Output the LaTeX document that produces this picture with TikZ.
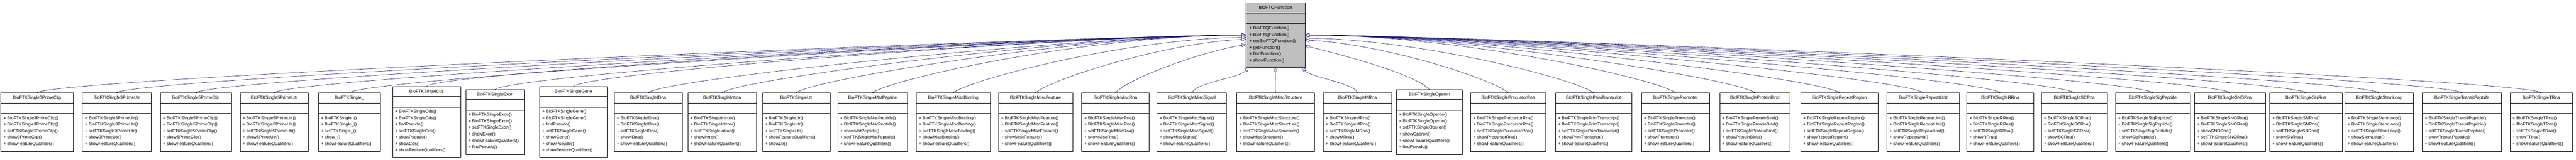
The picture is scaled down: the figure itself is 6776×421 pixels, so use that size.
\documentclass[tikz,border=0pt]{standalone}
\usepackage{fontspec}
\setmainfont{Liberation Sans}
\usetikzlibrary{arrows.meta,calc}
\definecolor{edgeblue}{HTML}{191970}
\definecolor{basegray}{HTML}{BFBFBF}
\tikzset{
  cls/.style={draw=black, line width=0.8pt, inner sep=0pt},
  ttl/.style={font=\fontsize{11.5}{17}\selectfont, inner sep=0pt},
  mth/.style={font=\fontsize{11.5}{17}\selectfont, align=left, anchor=north west, inner sep=0pt},
  inh/.style={draw=edgeblue, line width=0.8pt, -{Triangle[open, fill=white, length=11pt, width=10pt]}},
}
% #1 name, #2 xl, #3 xr, #4 n methods, #5 title, #6 methods, #7 fill
\newcommand{\umlcls}[7]{%
  \pgfmathsetmacro\hh{154+(#4-5)*17}
  \pgfmathsetmacro\ww{#3-#2}
  \pgfmathsetmacro\tp{100+\hh/2}
  \node[cls, fill=#7, minimum width=\ww pt, minimum height=\hh pt, anchor=north west] (#1) at (#2,\tp) {};
  \draw[line width=0.8pt] ($(#1.north west)+(0,-27)$) -- ($(#1.north east)+(0,-27)$);
  \draw[line width=0.8pt] ($(#1.north west)+(0,-55)$) -- ($(#1.north east)+(0,-55)$);
  \node[ttl] at ($(#1.north)+(0,-14)$) {#5};
  \node[mth] at ($(#1.north west)+(7,-62)$) {#6};
}
\newcommand{\stdcls}[5]{%
  \umlcls{#1}{#2}{#3}{5}{BioFTKSingle#4}{+ BioFTKSingle#4()\\+ BioFTKSingle#4()\\+ setFTKSingle#4()\\+ #5()\\+ showFeatureQualifiers()}{white}}
\begin{document}
\begin{tikzpicture}[x=1pt,y=1pt]
\useasboundingbox (0,0) rectangle (6776,421);
% base class
\node[cls, fill=basegray, minimum width=155pt, minimum height=170pt, anchor=north west] (T) at (3277,414) {};
\draw[line width=0.8pt] ($(T.north west)+(0,-27)$) -- ($(T.north east)+(0,-27)$);
\draw[line width=0.8pt] ($(T.north west)+(0,-55)$) -- ($(T.north east)+(0,-55)$);
\node[ttl, font=\fontsize{12}{17}\selectfont] at ($(T.north)+(0,-14)$) {BioFTQFunction};
\node[mth, font=\fontsize{12}{17}\selectfont] at ($(T.north west)+(9,-62)$) {+ BioFTQFunction()\\+ BioFTQFunction()\\+ setBioFTQFunction()\\+ getFunction()\\+ findFunction()\\+ showFunction()};

\stdcls{b1}{2}{192}{3PrimeClip}{show3PrimeClip}
\stdcls{b2}{216}{397}{3PrimeUtr}{show3PrimeUtr}
\stdcls{b3}{421}{608}{5PrimeClip}{show5PrimeClip}
\stdcls{b4}{631}{810}{5PrimeUtr}{show5PrimeUtr}
\stdcls{b5}{837}{1000}{\_}{show\_}
\umlcls{b6}{1032}{1212}{7}{BioFTKSingleCds}{+ BioFTKSingleCds()\\+ BioFTKSingleCds()\\+ findPseudo()\\+ setFTKSingleCds()\\+ showPseudo()\\+ showCds()\\+ showFeatureQualifiers()}{white}
\umlcls{b7}{1225}{1378}{6}{BioFTKSingleExon}{+ BioFTKSingleExon()\\+ BioFTKSingleExon()\\+ setFTKSingleExon()\\+ showExon()\\+ showFeatureQualifiers()\\+ findPseudo()}{white}
\umlcls{b8}{1419}{1597}{7}{BioFTKSingleGene}{+ BioFTKSingleGene()\\+ BioFTKSingleGene()\\+ findPseudo()\\+ setFTKSingleGene()\\+ showGene()\\+ showPseudo()\\+ showFeatureQualifiers()}{white}
\stdcls{b9}{1615}{1794}{IDna}{showIDna}
\stdcls{b10}{1809}{1989}{Intron}{showIntron}
\umlcls{b11}{2005}{2183}{5}{BioFTKSingleLtr}{+ BioFTKSingleLtr()\\+ BioFTKSingleLtr()\\+ setFTKSingleLtr()\\+ showFeatureQualifiers()\\+ showLtr()}{white}
\umlcls{b12}{2203}{2387}{5}{BioFTKSingleMatPeptide}{+ BioFTKSingleMatPeptide()\\+ BioFTKSingleMatPeptide()\\+ showMatPeptide()\\+ setFTKSingleMatPeptide()\\+ showFeatureQualifiers()}{white}
\stdcls{b13}{2410}{2604}{MiscBinding}{showMiscBinding}
\stdcls{b14}{2626}{2821}{MiscFeature}{showMiscFeature}
\stdcls{b15}{2845}{3022}{MiscRna}{showMiscRna}
\stdcls{b16}{3043}{3226}{MiscSignal}{showMiscSignal}
\stdcls{b17}{3253}{3457}{MiscStructure}{showMiscStructure}
\stdcls{b18}{3480}{3661}{MRna}{showMRna}
\umlcls{b19}{3673}{3846}{6}{BioFTKSingleOperon}{+ BioFTKSingleOperon()\\+ BioFTKSingleOperon()\\+ setFTKSingleOperon()\\+ showOperon()\\+ showFeatureQualifiers()\\+ findPseudo()}{white}
\stdcls{b20}{3868}{4066}{PrecursorRna}{showPrecursorRna}
\stdcls{b21}{4091}{4292}{PrimTranscript}{showPrimTranscript}
\stdcls{b22}{4317}{4497}{Promoter}{showPromoter}
\stdcls{b23}{4523}{4708}{ProteinBind}{showProteinBind}
\stdcls{b24}{4736}{4940}{RepeatRegion}{showRepeatRegion}
\stdcls{b25}{4963}{5154}{RepeatUnit}{showRepeatUnit}
\stdcls{b26}{5173}{5349}{RRna}{showRRna}
\stdcls{b27}{5369}{5543}{SCRna}{showSCRna}
\stdcls{b28}{5564}{5761}{SigPeptide}{showSigPeptide}
\umlcls{b29}{5772}{5959}{5}{BioFTKSingleSNORna}{+ BioFTKSingleSNORna()\\+ BioFTKSingleSNORna()\\+ showSNORna()\\+ setFTKSingleSNORna()\\+ showFeatureQualifiers()}{white}
\stdcls{b30}{5970}{6160}{SNRna}{showSNRna}
\stdcls{b31}{6168}{6347}{StemLoop}{showStemLoop}
\stdcls{b32}{6371}{6579}{TransitPeptide}{showTransitPeptide}
\stdcls{b33}{6602}{6766}{TRna}{showTRna}

% connection points on the base class
\coordinate (Lw) at (T.west);
\coordinate (L13) at ($(T.west)+(0,-6)$);
\coordinate (L14) at ($(T.west)+(0,-11)$);
\coordinate (L15) at ($(T.west)+(0,-25)$);
\coordinate (L16) at ($(T.south west)+(8,0)$);
\coordinate (R18) at ($(T.south east)+(-7,0)$);
\coordinate (R19) at ($(T.east)+(0,-28)$);
\coordinate (R20) at ($(T.east)+(0,-13)$);
\coordinate (R21) at ($(T.east)+(0,-8)$);
\coordinate (Re) at (T.east);

\foreach \i in {1,...,12} {\draw[inh] (b\i.north) .. controls +(60,40) and +(-400,0) .. (Lw);}
\draw[inh] (b13.north) .. controls +(60,40) and +(-300,-3) .. (L13);
\draw[inh] (b14.north) .. controls +(50,40) and +(-200,-8) .. (L14);
\draw[inh] (b15.north) .. controls +(40,40) and +(-120,-20) .. (L15);
\draw[inh] (b16.north) .. controls +(20,30) and +(-30,-30) .. (L16);
\draw[inh] (b17.north) -- (T.south);
\draw[inh] (b18.north) .. controls +(-10,25) and +(20,-25) .. (R18);
\draw[inh] (b19.north) .. controls +(-40,40) and +(120,-30) .. (R19);
\draw[inh] (b20.north) .. controls +(-50,40) and +(200,-10) .. (R20);
\draw[inh] (b21.north) .. controls +(-60,40) and +(300,-4) .. (R21);
\foreach \i in {22,...,33} {\draw[inh] (b\i.north) .. controls +(-60,40) and +(400,0) .. (Re);}
\end{tikzpicture}
\end{document}
